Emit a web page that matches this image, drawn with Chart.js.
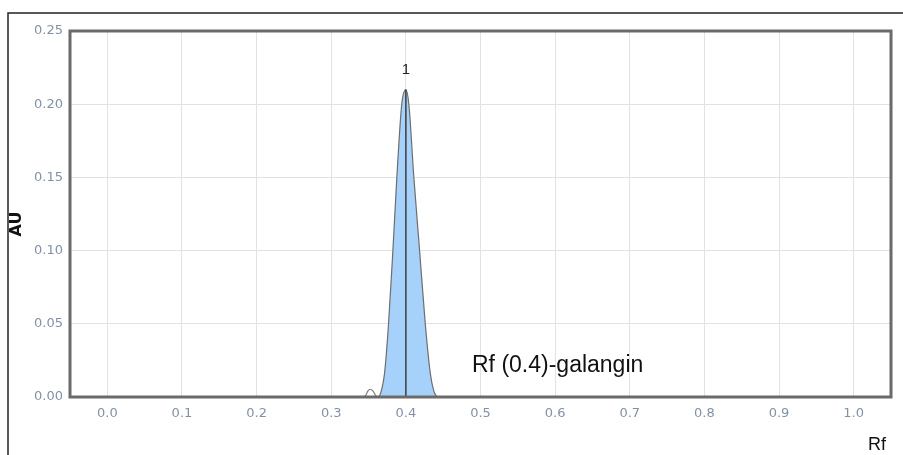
<!DOCTYPE html>
<html>
<head>
<meta charset="utf-8">
<script src="https://cdn.jsdelivr.net/npm/chart.js@4/dist/chart.umd.min.js"></script>
<style>
  html, body { margin: 0; padding: 0; background: #fff; }
  canvas { display: block; }
</style>
</head>
<body>
<canvas id="tlcChart" width="903" height="455"></canvas>
<script>
// Densitogram trace (Rf vs AU)
const peakRf = [0.3640, 0.3670, 0.3714, 0.3768, 0.3826, 0.3879, 0.3945, 0.4000, 0.4040, 0.4107, 0.4184, 0.4260, 0.4328, 0.4375, 0.4416];
const peakAU = [0.000, 0.004, 0.016, 0.050, 0.100, 0.150, 0.200, 0.210, 0.200, 0.150, 0.100, 0.050, 0.016, 0.004, 0.000];

// small shoulder just before the main band
const bumpRf = [0.3420, 0.3460, 0.3490, 0.3522, 0.3560, 0.3595, 0.3630];
const bumpAU = [0.0000, 0.0010, 0.0040, 0.0053, 0.0040, 0.0010, 0.0000];

// peak marker line at Rf 0.4
const markerRf = [0.4, 0.4];
const markerAU = [0, 0.21];

const xTicks = [0.0, 0.1, 0.2, 0.3, 0.4, 0.5, 0.6, 0.7, 0.8, 0.9, 1.0];
const yTicks = [0.00, 0.05, 0.10, 0.15, 0.20, 0.25];

const toPoints = (xs, ys) => xs.map((x, i) => ({ x, y: ys[i] }));

// outer frame + thick plot border + annotations and axis names
const decorations = {
  id: "decorations",
  beforeDraw(chart) {
    const ctx = chart.ctx;
    ctx.save();
    ctx.strokeStyle = "#222";
    ctx.lineWidth = 1.5;
    ctx.beginPath();
    ctx.moveTo(8, 455);
    ctx.lineTo(8, 13);
    ctx.lineTo(903, 13);
    ctx.stroke();
    ctx.restore();
  },
  afterDatasetsDraw(chart) {
    const { ctx, chartArea: a, scales } = chart;
    ctx.save();
    ctx.strokeStyle = "#6a6a6a";
    ctx.lineWidth = 3;
    ctx.strokeRect(a.left, a.top, a.right - a.left, a.bottom - a.top);

    // peak number
    ctx.fillStyle = "#222";
    ctx.font = "15px 'Liberation Sans'";
    ctx.textAlign = "center";
    ctx.textBaseline = "middle";
    ctx.fillText("1", scales.x.getPixelForValue(markerRf[1]), scales.y.getPixelForValue(markerAU[1]) - 20);

    // compound label
    ctx.fillStyle = "#111";
    ctx.font = "23px 'Liberation Sans'";
    ctx.textAlign = "left";
    ctx.textBaseline = "alphabetic";
    ctx.fillText("Rf (0.4)-galangin", 472, 372);

    // axis names
    ctx.font = "18px 'Liberation Sans'";
    ctx.textAlign = "right";
    ctx.fillText("Rf", 886, 450);

    ctx.translate(17, 224);
    ctx.rotate(-Math.PI / 2);
    ctx.font = "bold 16px 'DejaVu Sans'";
    ctx.textAlign = "center";
    ctx.textBaseline = "middle";
    ctx.fillText("AU", 0, 0);
    ctx.restore();
  }
};

const tickStyle = { family: "'DejaVu Sans'", size: 13 };

new Chart(document.getElementById("tlcChart").getContext("2d"), {
  type: "line",
  data: {
    datasets: [
      {
        data: toPoints(peakRf, peakAU),
        order: 3,
        borderColor: "#6e6e6e",
        borderWidth: 1.2,
        backgroundColor: "#a5d1fa",
        fill: "origin",
        cubicInterpolationMode: "monotone",
        pointRadius: 0
      },
      {
        data: toPoints(bumpRf, bumpAU),
        order: 2,
        borderColor: "#808080",
        borderWidth: 1.2,
        fill: false,
        cubicInterpolationMode: "monotone",
        pointRadius: 0
      },
      {
        data: toPoints(markerRf, markerAU),
        order: 1,
        borderColor: "#454545",
        borderWidth: 1.6,
        fill: false,
        pointRadius: 0
      }
    ]
  },
  options: {
    responsive: false,
    animation: false,
    layout: { padding: { top: 31, right: 12, left: 0, bottom: 0 } },
    plugins: { legend: { display: false }, tooltip: { enabled: false } },
    scales: {
      x: {
        type: "linear",
        min: -0.05,
        max: 1.05,
        afterBuildTicks: s => { s.ticks = xTicks.map(v => ({ value: v })); },
        afterFit: s => { s.height = 58; },
        grid: { color: "#e2e2e2", drawTicks: false },
        border: { display: false },
        ticks: {
          padding: 9,
          color: "#8391a6",
          font: tickStyle,
          callback: v => Number(v).toFixed(1)
        }
      },
      y: {
        min: 0,
        max: 0.25,
        afterBuildTicks: s => { s.ticks = yTicks.map(v => ({ value: v })); },
        afterFit: s => { s.width = 70; },
        grid: { color: "#e2e2e2", drawTicks: false },
        border: { display: false },
        ticks: {
          padding: 7,
          color: "#8391a6",
          font: tickStyle,
          callback: v => Number(v).toFixed(2)
        }
      }
    }
  },
  plugins: [decorations]
});
</script>
</body>
</html>
